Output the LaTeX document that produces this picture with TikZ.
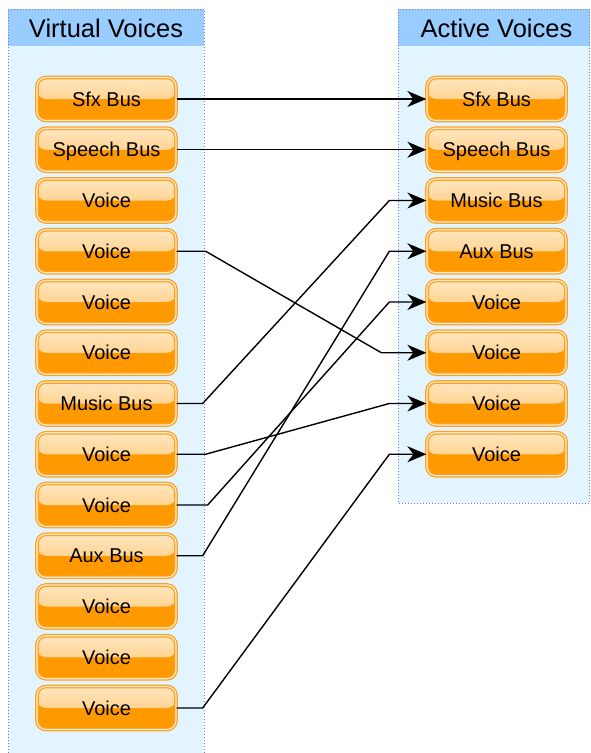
\documentclass[tikz,border=0pt]{standalone}
\usepackage{fontspec}
\setmainfont{Liberation Sans}
\usetikzlibrary{calc,arrows.meta}

\definecolor{panelfill}{HTML}{E1F4FF}
\definecolor{panelhead}{HTML}{99CCFF}
\definecolor{panelline}{HTML}{7B7BAF}
\definecolor{btnorange}{HTML}{FF9900}
\definecolor{btnlight}{HTML}{FFDCA6}
\definecolor{btnedge}{HTML}{FFA01E}

\tikzset{
  voicebtn/.style={rounded corners=9pt, minimum width=139pt, minimum height=43pt,
    inner sep=0pt, text height=15pt, text depth=1pt,
    draw=btnedge, double=btnlight!50!white, double distance=1.1pt,
    line width=1.3pt, fill=btnorange, font=\fontsize{20}{22}\selectfont,
    path picture={\fill[top color=btnlight!70!white, bottom color=btnlight!60!btnorange]
      (path picture bounding box.north west) rectangle (path picture bounding box.east);}},
  headtext/.style={font=\fontsize{25.5}{28}\selectfont},
  link/.style={line width=1.4pt, ->},
}

\begin{document}
\begin{tikzpicture}[x=1pt, y=-1pt, >={Stealth[length=19pt, width=16pt, inset=6pt]}]

\useasboundingbox (0,0) rectangle (590,753);

% panels
\fill[panelfill] (8,9) rectangle (204,753);
\fill[panelhead] (8,9) rectangle (204,46);
\draw[panelline, dotted, line width=1pt] (8,753) -- (8,9) -- (204,9) -- (204,753);

\fill[panelfill] (398,9) rectangle (589.5,503);
\fill[panelhead] (398,9) rectangle (589.5,46);
\draw[panelline, dotted, line width=1pt] (398,9) rectangle (589.5,503);

\node[headtext] (lhead) at (106,28.5) {Virtual Voices};
\node[headtext] (ahead) at (496.5,28.5) {Active Voices};


\coordinate (L) at (106.5,99);
\coordinate (A) at (496.5,99);

% virtual voices
\node[voicebtn] (lsfx)    at ($(L) + 0*(0,50.75)$)  {Sfx Bus};
\node[voicebtn] (lspeech) at ($(L) + 1*(0,50.75)$)  {Speech Bus};
\node[voicebtn] (lv1)     at ($(L) + 2*(0,50.75)$)  {Voice};
\node[voicebtn] (lv2)     at ($(L) + 3*(0,50.75)$)  {Voice};
\node[voicebtn] (lv3)     at ($(L) + 4*(0,50.75)$)  {Voice};
\node[voicebtn] (lv4)     at ($(L) + 5*(0,50.75)$)  {Voice};
\node[voicebtn] (lmusic)  at ($(L) + 6*(0,50.75)$)  {Music Bus};
\node[voicebtn] (lv5)     at ($(L) + 7*(0,50.75)$)  {Voice};
\node[voicebtn] (lv6)     at ($(L) + 8*(0,50.75)$)  {Voice};
\node[voicebtn] (laux)    at ($(L) + 9*(0,50.75)$)  {Aux Bus};
\node[voicebtn] (lv7)     at ($(L) + 10*(0,50.75)$) {Voice};
\node[voicebtn] (lv8)     at ($(L) + 11*(0,50.75)$) {Voice};
\node[voicebtn] (lv9)     at ($(L) + 12*(0,50.75)$) {Voice};

% active voices
\node[voicebtn] (asfx)    at ($(A) + 0*(0,50.75)$) {Sfx Bus};
\node[voicebtn] (aspeech) at ($(A) + 1*(0,50.75)$) {Speech Bus};
\node[voicebtn] (amusic)  at ($(A) + 2*(0,50.75)$) {Music Bus};
\node[voicebtn] (aaux)    at ($(A) + 3*(0,50.75)$) {Aux Bus};
\node[voicebtn] (av1)     at ($(A) + 4*(0,50.75)$) {Voice};
\node[voicebtn] (av2)     at ($(A) + 5*(0,50.75)$) {Voice};
\node[voicebtn] (av3)     at ($(A) + 6*(0,50.75)$) {Voice};
\node[voicebtn] (av4)     at ($(A) + 7*(0,50.75)$) {Voice};


\draw[link] (lsfx.east) -- (asfx.west);
\draw[link] (lspeech.east) -- (aspeech.west);
\draw[link] (lv2.east) -- ++(29,0) -- ($(av2.west) + (-45,0)$) -- (av2.west);
\draw[link] (lmusic.east) -- ++(26,0) -- ($(amusic.west) + (-37,0)$) -- (amusic.west);
\draw[link] (lv5.east) -- ++(29,0) -- ($(av3.west) + (-37,0)$) -- (av3.west);
\draw[link] (lv6.east) -- ++(31,0) -- ($(av1.west) + (-37,0)$) -- (av1.west);
\draw[link] (laux.east) -- ++(26,0) -- ($(aaux.west) + (-37,0)$) -- (aaux.west);
\draw[link] (lv9.east) -- ++(26,0) -- ($(av4.west) + (-37,0)$) -- (av4.west);

\end{tikzpicture}
\end{document}
